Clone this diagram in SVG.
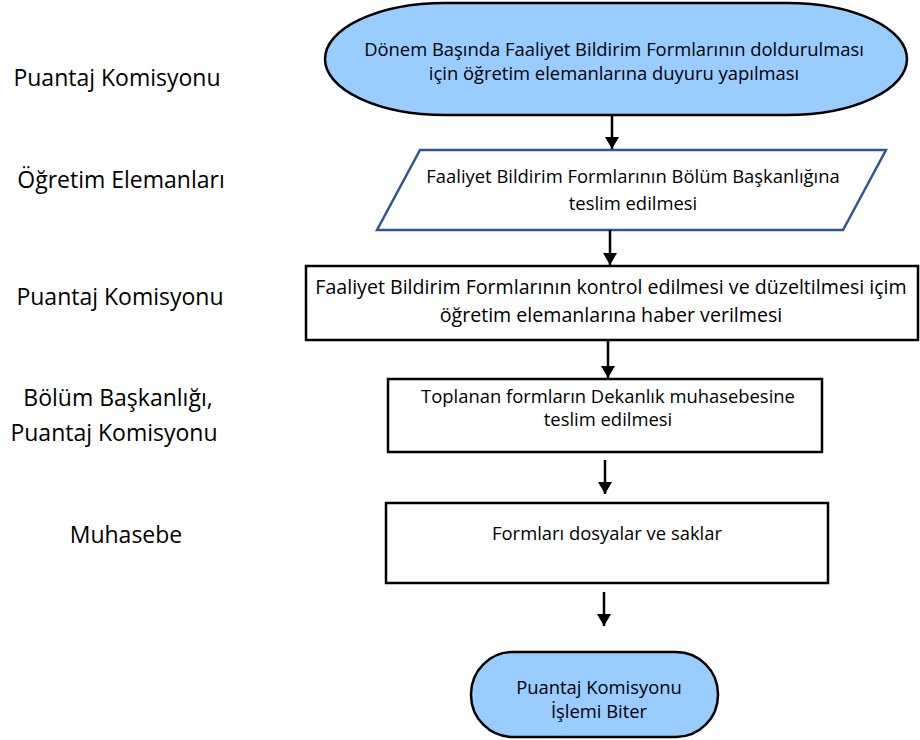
<svg xmlns="http://www.w3.org/2000/svg" width="920" height="740" viewBox="0 0 920 740">
<style>
.t{font-family:"Open Sans","Noto Sans","Liberation Sans",sans-serif;font-size:18.4px;fill:#000;text-anchor:middle}
.b{font-size:19.6px}
.l{font-family:"Open Sans","Noto Sans","Liberation Sans",sans-serif;font-size:23px;fill:#000;text-anchor:middle}
.term{fill:#99ccff;stroke:#000;stroke-width:2.5}
.box{fill:#fff;stroke:#000;stroke-width:2.5}
.io{fill:#fff;stroke:#2f5597;stroke-width:2.5}
.c{stroke:#000;stroke-width:2.5;fill:none;marker-end:url(#ah)}
</style>
<defs>
<marker id="ah" markerUnits="userSpaceOnUse" markerWidth="16" markerHeight="14" refX="12" refY="7" orient="auto">
<path d="M0,0 L12,7 L0,14 Z" fill="#000"/>
</marker>
</defs>
<g id="lanes">
<text class="l" x="117" y="86">Puantaj Komisyonu</text>
<text class="l" x="121" y="188">Öğretim Elemanları</text>
<text class="l" x="120" y="305">Puantaj Komisyonu</text>
<text class="l" x="118" y="406">Bölüm Başkanlığı,</text>
<text class="l" x="114" y="441">Puantaj Komisyonu</text>
<text class="l" x="126" y="543">Muhasebe</text>
</g>
<g id="start">
<rect class="term" x="325" y="3" width="582" height="112" rx="120" ry="56"/>
<text class="t" x="614" y="56">Dönem Başında Faaliyet Bildirim Formlarının doldurulması</text>
<text class="t" x="614" y="80">için öğretim elemanlarına duyuru yapılması</text>
</g>
<g id="input">
<polygon class="io" points="420,150 886,150 843,230 377,230"/>
<text class="t" x="633" y="183">Faaliyet Bildirim Formlarının Bölüm Başkanlığına</text>
<text class="t" x="633" y="210">teslim edilmesi</text>
</g>
<g id="control">
<rect class="box" x="306" y="266" width="612" height="74"/>
<text class="t b" x="611" y="294">Faaliyet Bildirim Formlarının kontrol edilmesi ve düzeltilmesi içim</text>
<text class="t b" x="611" y="322">öğretim elemanlarına haber verilmesi</text>
</g>
<g id="deliver">
<rect class="box" x="388" y="379" width="434" height="73"/>
<text class="t" x="608" y="403">Toplanan formların Dekanlık muhasebesine</text>
<text class="t" x="608" y="426">teslim edilmesi</text>
</g>
<g id="archive">
<rect class="box" x="386" y="503" width="442" height="80"/>
<text class="t" x="607" y="540">Formları dosyalar ve saklar</text>
</g>
<g id="end">
<rect class="term" x="471" y="652" width="247" height="85" rx="42" ry="42"/>
<text class="t" x="599" y="694">Puantaj Komisyonu</text>
<text class="t" x="599" y="718">İşlemi Biter</text>
</g>
<g id="connectors">
<line class="c" x1="612" y1="115" x2="612" y2="149"/>
<line class="c" x1="610" y1="230" x2="610" y2="265"/>
<line class="c" x1="608" y1="340" x2="608" y2="378"/>
<line class="c" x1="605" y1="460" x2="605" y2="494"/>
<line class="c" x1="604" y1="592" x2="604" y2="626"/>
</g>
</svg>
